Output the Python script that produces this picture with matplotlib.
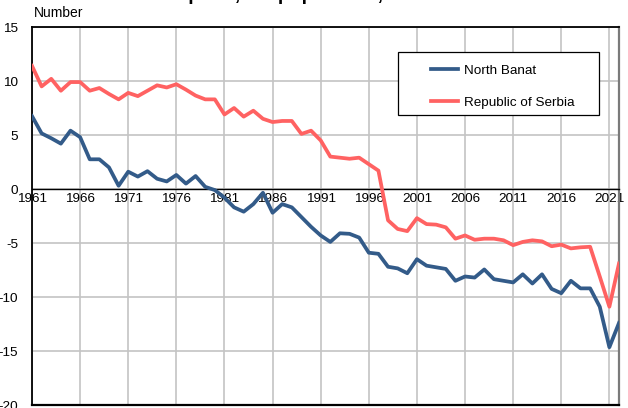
import matplotlib
matplotlib.use("Agg")
import matplotlib.pyplot as plt
from matplotlib.patches import Rectangle

plt.rcParams['font.family'] = ['Liberation Sans', 'DejaVu Sans']
plt.rcParams['axes.unicode_minus'] = False

years = list(range(1961, 2023))

north_banat = [6.75, 5.15, 4.7, 4.2, 5.4, 4.8, 2.75, 2.75, 2.0, 0.3,
               1.6, 1.15, 1.65, 0.95, 0.7, 1.3, 0.5, 1.2, 0.2, -0.1,
               -0.8, -1.7, -2.1, -1.4, -0.35, -2.2, -1.4, -1.7, -2.6, -3.5,
               -4.3, -4.9, -4.1, -4.15, -4.5, -5.9, -6.0, -7.2, -7.35, -7.8,
               -6.5, -7.1, -7.25, -7.4, -8.5, -8.1, -8.2, -7.45, -8.35, -8.5,
               -8.65, -7.9, -8.75, -7.9, -9.25, -9.65, -8.5, -9.2, -9.2, -10.9,
               -14.65, -12.4]

serbia = [11.4, 9.5, 10.2, 9.1, 9.9, 9.9, 9.1, 9.35, 8.8, 8.3,
          8.9, 8.6, 9.1, 9.6, 9.4, 9.7, 9.2, 8.65, 8.3, 8.3,
          6.9, 7.5, 6.7, 7.25, 6.5, 6.2, 6.3, 6.3, 5.1, 5.4,
          4.5, 3.0, 2.9, 2.8, 2.9, 2.3, 1.7, -2.9, -3.7, -3.9,
          -2.7, -3.25, -3.3, -3.55, -4.6, -4.3, -4.7, -4.6, -4.6, -4.75,
          -5.2, -4.9, -4.75, -4.85, -5.3, -5.15, -5.5, -5.4, -5.35, -8.1,
          -10.9, -6.9]

x_ticks = list(range(1961, 2022, 5))
y_ticks = [-20, -15, -10, -5, 0, 5, 10, 15]
title = "Natural increase per 1,000 population, 1961\u20132022"

W, H = 628, 408
fig = plt.figure(figsize=(W / 100, H / 100), dpi=100)
ax = fig.add_axes([32 / W, 3 / H, 587 / W, 378 / H])

ax.plot(years, north_banat, color='#335b89', lw=2.7, label='North Banat', zorder=3)
ax.plot(years, serbia, color='#ff6262', lw=2.7, label='Republic of Serbia', zorder=3)

ax.set_xlim(1961, 2022)
ax.set_ylim(-20, 15)
ax.set_xticks(x_ticks)
ax.set_yticks(y_ticks)
ax.tick_params(length=0, labelsize=9.7)
ax.tick_params(axis='y', pad=10)
ax.tick_params(axis='x', pad=3)
ax.grid(True, color='#c4c4c4', lw=1.2, zorder=0)
ax.set_axisbelow(True)

ax.spines['bottom'].set_position(('data', 0))
ax.spines['bottom'].set_color('black')
ax.spines['bottom'].set_linewidth(1.0)
ax.spines['left'].set_linewidth(1.3)
ax.spines['top'].set_linewidth(1.3)
ax.spines['right'].set_color('#7a7a7a')
ax.spines['right'].set_linewidth(1.6)
ax.axhline(-20, color='black', lw=1.6, clip_on=False, zorder=4)

# legend box
ax.add_patch(Rectangle((398 / W, 1 - 115 / H), 201 / W, 63 / H, transform=fig.transFigure,
                       facecolor='white', edgecolor='black', lw=0.9, clip_on=False, zorder=4))
leg = ax.legend(loc='upper left', bbox_to_anchor=(424 / W, 1 - 58 / H),
                bbox_transform=fig.transFigure, frameon=False, fontsize=9.7,
                borderpad=0, handlelength=2.0, handletextpad=0.45, labelspacing=1.45)
leg.set_zorder(5)

fig.text(34 / W, 1 - 13 / H, 'Number', fontsize=10, va='center')
fig.text(31 / W, 1 - 0.5 / H, title, fontsize=14, fontweight='bold', va='baseline')

fig.savefig('out.png', dpi=100)
